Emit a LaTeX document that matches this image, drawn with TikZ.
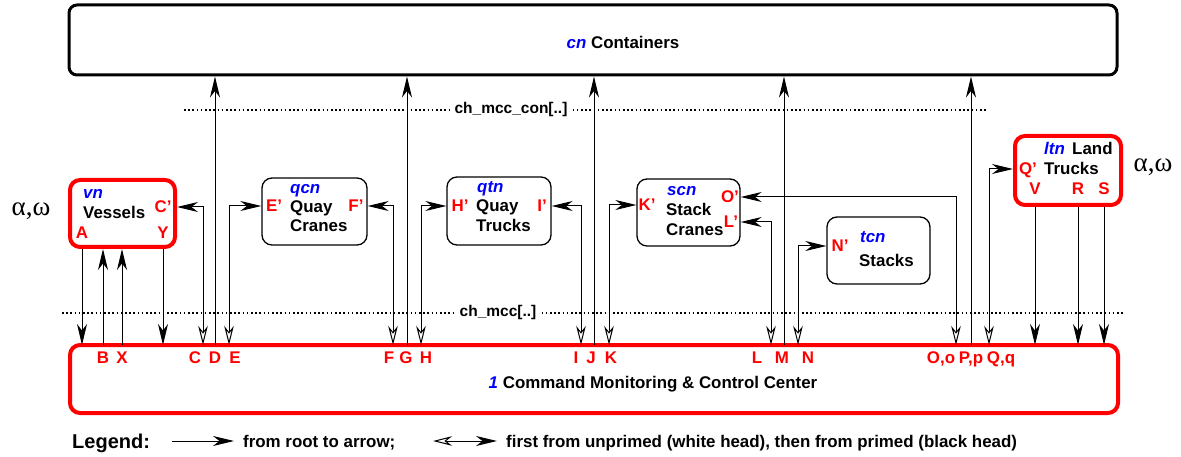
\documentclass[tikz,border=0pt]{standalone}
\usepackage{fontspec}
\setmainfont{Liberation Sans}
\newfontfamily\greekfont{Liberation Serif}
\usepackage{xcolor}
\usetikzlibrary{arrows.meta,positioning}
\newcommand{\idn}[1]{{\color{blue}\itshape #1}}

\begin{document}
\begin{tikzpicture}[x=1pt, y=-1pt,
    txt/.style={inner sep=0pt, text height=12pt, text depth=0pt, font=\bfseries\fontsize{16.9}{18}\selectfont},
    port/.style={txt, text=red},
    chtxt/.style={inner ysep=0pt, inner xsep=5pt, text height=11.2pt, text depth=0pt, font=\bfseries\fontsize{15.5}{17}\selectfont},
    box/.style={draw, rounded corners=10pt, line width=1.3pt, minimum width=104pt, minimum height=67pt},
    redbox/.style={box, draw=red, line width=4pt},
    chan/.style={line width=1.4pt, dash pattern=on 1.6pt off 2.6pt},
    plain/.style={line width=1pt, arrows={-Stealth[length=21pt, width=10pt, inset=6.5pt]}},
    dual/.style={line width=1pt, arrows={Stealth[fill=white, length=19pt, width=9.5pt, inset=6pt]-Stealth[length=21pt, width=10pt, inset=6.5pt]}},
    greek/.style={inner sep=0pt, font=\greekfont\fontsize{27}{29}\selectfont}]

    \useasboundingbox (0,0) rectangle (1181,457);

    % Containers
    \node[draw, rounded corners=8pt, line width=3pt, minimum width=1048pt, minimum height=70pt] (con) at (593,40) {};
    \node[txt] (contxt) at (623,43) {\idn{cn} Containers};

    % Channels
    \node[chtxt] (chcon) at (511,108) {ch\_mcc\_con[..]};
    \draw[chan] (184,110) -- (chcon.west |- 0,110);
    \draw[chan] (chcon.east |- 0,110) -- (988,110);
    \node[chtxt] (chmcc) at (498,311) {ch\_mcc[..]};
    \draw[chan] (62,313) -- (chmcc.west |- 0,313);
    \draw[chan] (chmcc.east |- 0,313) -- (1124,313);

    % Vessels
    \node[redbox, minimum width=105pt] (vn) at (122.5,213.5) {};
    \node[txt, anchor=west] (vnid) at (83,193) {\idn{vn}};
    \node[txt, anchor=west] (vntxt) at (83,213) {Vessels};
    \node[port] (Cp) at (163,207) {C'};
    \node[port] (A) at (82,233) {A};
    \node[port] (Y) at (163,233) {Y};
    \node[greek] (vnaw) at (31,211) {α,ω};

    % Quay cranes
    \node[box, minimum width=105pt] (qcn) at (314.5,211.5) {};
    \node[txt, anchor=west] (qcnid) at (290,188) {\idn{qcn}};
    \node[txt, anchor=west] (qcntxt1) at (290,207) {Quay};
    \node[txt, anchor=west] (qcntxt2) at (290,226) {Cranes};
    \node[port] (Ep) at (274,206) {E'};
    \node[port] (Fp) at (356,206) {F'};

    % Quay trucks
    \node[box, minimum height=68pt] (qtn) at (499,211) {};
    \node[txt, anchor=west] (qtnid) at (477,187) {\idn{qtn}};
    \node[txt, anchor=west] (qtntxt1) at (476,206) {Quay};
    \node[txt, anchor=west] (qtntxt2) at (476,226) {Trucks};
    \node[port] (Hp) at (460,206) {H'};
    \node[port] (Ip) at (542,206) {I'};

    % Stack cranes
    \node[box, minimum width=103pt] (scn) at (688.5,212.5) {};
    \node[txt, anchor=west] (scnid) at (667,190) {\idn{scn}};
    \node[txt, anchor=west] (scntxt1) at (666,210) {Stack};
    \node[txt, anchor=west] (scntxt2) at (666,230) {Cranes};
    \node[port] (Kp) at (647,205) {K'};
    \node[port] (Op) at (730,197) {O'};
    \node[port] (Lp) at (731,222) {L'};

    % Stacks
    \node[box, minimum width=103pt] (tcn) at (878.5,250.5) {};
    \node[txt, anchor=west] (tcnid) at (860,237) {\idn{tcn}};
    \node[txt, anchor=west] (tcntxt) at (859,260) {Stacks};
    \node[port] (Np) at (840,246) {N'};

    % Land trucks
    \node[redbox, minimum width=106pt, minimum height=69pt] (ltn) at (1068,170.5) {};
    \node[txt, anchor=west] (ltnid) at (1044,149) {\idn{ltn}};
    \node[txt, anchor=west] (ltntxt1) at (1072,149) {Land};
    \node[txt, anchor=west] (ltntxt2) at (1044,169) {Trucks};
    \node[port] (Qp) at (1028,169) {Q'};
    \node[port] (V) at (1035,189) {V};
    \node[port] (R) at (1078,189) {R};
    \node[port] (S) at (1104,189) {S};
    \node[greek] (ltnaw) at (1153,167) {α,ω};

    % Command monitoring & control center
    \node[redbox, minimum width=1048pt, minimum height=68pt] (mcc) at (594,379) {};
    \node[txt] (mcctxt) at (653,382) {\idn{1} Command Monitoring \& Control Center};
    \node[port] (B) at (103,357) {B};
    \node[port] (X) at (122,357) {X};
    \node[port] (C) at (195,357) {C};
    \node[port] (D) at (215,357) {D};
    \node[port] (E) at (235,357) {E};
    \node[port] (F) at (389,357) {F};
    \node[port] (G) at (406,357) {G};
    \node[port] (H) at (426,357) {H};
    \node[port] (I) at (576,357) {I};
    \node[port] (J) at (591,357) {J};
    \node[port] (K) at (611,357) {K};
    \node[port] (L) at (757,357) {L};
    \node[port] (M) at (782,357) {M};
    \node[port] (N) at (808,357) {N};
    \node[port] (O) at (941,357) {O,o};
    \node[port] (P) at (971,357) {P,p};
    \node[port] (Q) at (1001,357) {Q,q};

    % Roots and ends on the MCC border
    \coordinate (a) at (82,345);  \coordinate (b) at (103,345);  \coordinate (x) at (122,345);
    \coordinate (y) at (163,345); \coordinate (c) at (203,345);  \coordinate (d) at (215,345);
    \coordinate (e) at (229,345); \coordinate (f) at (393,345);  \coordinate (g) at (407,345);
    \coordinate (h) at (421,345); \coordinate (i) at (581,345);  \coordinate (j) at (594,345);
    \coordinate (k) at (609,345); \coordinate (l) at (771,345);  \coordinate (m) at (784,345);
    \coordinate (n) at (798,345); \coordinate (o) at (956,345);  \coordinate (p) at (971,345);
    \coordinate (q) at (989,345); \coordinate (v) at (1035,345); \coordinate (r) at (1078,345);
    \coordinate (s) at (1104,345);

    % MCC to containers
    \draw[plain] (d) -- (con.south -| d);
    \draw[plain] (g) -- (con.south -| g);
    \draw[plain] (j) -- (con.south -| j);
    \draw[plain] (m) -- (con.south -| m);
    \draw[plain] (p) -- (con.south -| p);

    % Vessels and land trucks
    \draw[plain] (vn.south -| a) -- (a);
    \draw[plain] (b) -- (vn.south -| b);
    \draw[plain] (x) -- (vn.south -| x);
    \draw[plain] (vn.south -| y) -- (y);
    \draw[plain] (ltn.south -| v) -- (v);
    \draw[plain] (ltn.south -| r) -- (r);
    \draw[plain] (ltn.south -| s) -- (s);

    % Two way channels
    \draw[dual] (c) |- (vn.east |- Cp);
    \draw[dual] (e) |- (qcn.west |- Ep);
    \draw[dual] (f) |- (qcn.east |- Fp);
    \draw[dual] (h) |- (qtn.west |- Hp);
    \draw[dual] (i) |- (qtn.east |- Ip);
    \draw[dual] (k) |- (scn.west |- Kp);
    \draw[dual] (l) |- (scn.east |- Lp);
    \draw[dual] (o) |- (scn.east |- Op);
    \draw[dual] (n) |- (tcn.west |- Np);
    \draw[dual] (q) |- (ltn.west |- Qp);

    % Legend
    \node[inner sep=0pt, text height=14.3pt, text depth=0pt, font=\bfseries\fontsize{20}{22}\selectfont, anchor=west] (legend) at (72,441) {Legend:};
    \coordinate (l1s) at (172,441);
    \coordinate (l1e) at (234,441);
    \draw[plain] (l1s) -- (l1e);
    \node[txt, right=9pt of l1e] (lt1) {from root to arrow;};
    \coordinate (l2s) at (433,441);
    \coordinate (l2e) at (497,441);
    \draw[dual] (l2s) -- (l2e);
    \node[txt, right=9pt of l2e] (lt2) {first from unprimed (white head), then from primed (black head)};
\end{tikzpicture}
\end{document}
